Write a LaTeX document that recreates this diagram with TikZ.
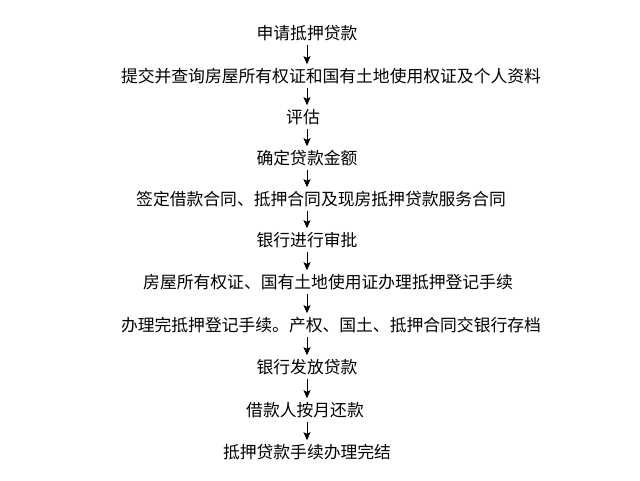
\documentclass[tikz,border=0pt]{standalone}
\usepackage{fontspec}
\setmainfont{Noto Sans CJK SC}
\usetikzlibrary{arrows.meta}
\begin{document}
\begin{tikzpicture}[>={Stealth[length=8pt,width=7pt,inset=1.5pt]},x=1pt,y=-1pt,
    every node/.style={font=\fontsize{16.8}{20}\selectfont,text height=13.9pt,text depth=1.2pt,inner ysep=4pt,inner xsep=0pt}]
            \useasboundingbox[fill=white](0,0) rectangle (640,481);
            \node (sq) at (307,33) {申请抵押贷款};
            \node (tj) at (331,76) {提交并查询房屋所有权证和国有土地使用权证及个人资料};
            \node (pg) at (303,117) {评估};
            \node (qd) at (307,158) {确定贷款金额};
            \node (qht) at (321,199) {签定借款合同、抵押合同及现房抵押贷款服务合同};
            \node (sp) at (307,240) {银行进行审批};
            \node (dj) at (328,282) {房屋所有权证、国有土地使用证办理抵押登记手续};
            \node (cd) at (331,325) {办理完抵押登记手续。产权、国土、抵押合同交银行存档};
            \node (ff) at (307,367) {银行发放贷款};
            \node (hk) at (305,410) {借款人按月还款};
            \node (wj) at (307,452) {抵押贷款手续办理完结};
            \foreach \a/\b in {sq/tj,tj/pg,pg/qd,qd/qht,qht/sp,sp/dj,dj/cd,cd/ff,ff/hk,hk/wj}
                \draw[->,line width=1pt](\a.south -| sq)--(\b.north -| sq);
    \end{tikzpicture}
\end{document}
